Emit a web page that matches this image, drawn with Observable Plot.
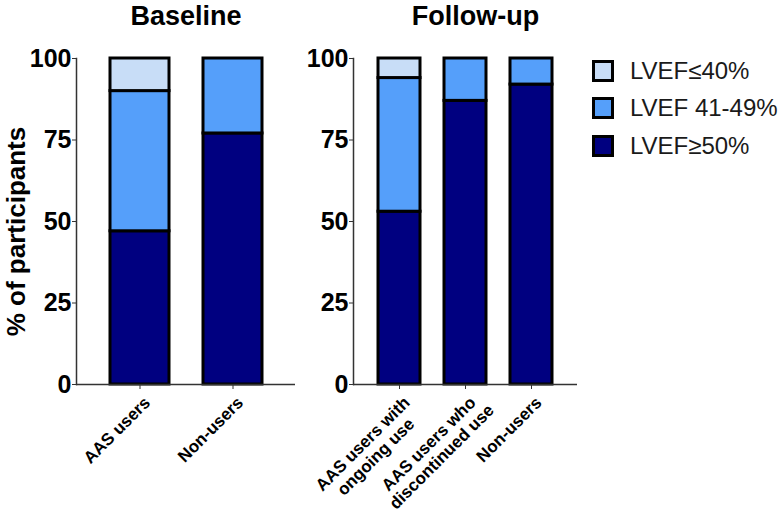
<!DOCTYPE html>
<html><head><meta charset="utf-8">
<script src="https://cdn.jsdelivr.net/npm/d3@7"></script>
<script src="https://cdn.jsdelivr.net/npm/@observablehq/plot@0.6"></script>
<style>
body{margin:0;background:#fff;font-family:"Liberation Sans",Arial,sans-serif;}
#wrap{position:relative;width:778px;height:515px;overflow:hidden;background:#fff}
#left{position:absolute;left:0;top:0}
#right{position:absolute;left:300px;top:0}
#legend{position:absolute;left:592px;top:52px}
.row{display:flex;align-items:center;height:37.5px}
.sw{width:16px;height:16px;border:3px solid #000;margin-right:16px;box-sizing:content-box}
.lab{font-size:24px;color:#1a1a1a;white-space:nowrap}
</style></head><body>
<div id="wrap"><div id="left"></div><div id="right"></div><div id="legend"></div></div>
<script>
// Categories (stack order bottom -> top) and colours
const categories = ["LVEF≥50%", "LVEF 41-49%", "LVEF≤40%"];
const categoryColors = ["#000080", "#559ffa", "#c8ddf7"];
const legendOrder = ["LVEF≤40%", "LVEF 41-49%", "LVEF≥50%"];
const yTicks = [0, 25, 50, 75, 100];

// Baseline panel
const baselineGroups = ["AAS users", "Non-users"];
const baselineGE50 = [47, 77];
const baselineMid = [43, 23];
const baselineLT40 = [10, 0];

// Follow-up panel
const followGroups = ["AAS users with\nongoing use", "AAS users who\ndiscontinued use", "Non-users"];
const followGE50 = [53, 87, 92];
const followMid = [41, 13, 8];
const followLT40 = [6, 0, 0];

const FONT = "Liberation Sans, Arial, sans-serif";
const LABEL_SIZE = 17;

const ctx = document.createElement("canvas").getContext("2d");
ctx.font = `bold ${LABEL_SIZE}px "Liberation Sans", Arial, sans-serif`;
function firstLineWidth(label) {
  return ctx.measureText(label.split("\n")[0]).width;
}

function rowsFor(groups, series) {
  const rows = [];
  groups.forEach((g, i) => series.forEach(([cat, vals]) => {
    if (vals[i] > 0) rows.push({group: g, category: cat, value: vals[i]});
  }));
  return rows;
}

function panel({groups, series, width, marginLeft, marginRight, title, titleDx, yLabel}) {
  const rows = rowsFor(groups, series);
  const s = Math.SQRT1_2;
  // rotated tick labels: first line ends at the tick, further lines centred on it
  const labelMarks = groups.map(g => {
    const half = firstLineWidth(g) / 2;
    return Plot.text([g], {x: d => d, frameAnchor: "bottom", dx: 2 - s * half, dy: 10 + s * half,
      rotate: -45, textAnchor: "middle", lineAnchor: "top", lineHeight: 1.08,
      fontSize: LABEL_SIZE, fontWeight: "bold", fill: "#000"});
  });
  const marks = [
    Plot.barY(rows, {x: "group", y: "value", fill: "category", stroke: "#000", strokeWidth: 3, order: categories}),
    Plot.ruleY([0], {stroke: "#333", strokeWidth: 1.5}),
    Plot.frame({anchor: "left", stroke: "#333", strokeWidth: 1.5}),
    Plot.axisY({ticks: yTicks, tickSize: 4, tickPadding: 1, fontSize: 25, fontWeight: "bold", label: null, stroke: "#333"}),
    Plot.axisX({tickSize: 5, tickFormat: () => "", label: null, stroke: "#333"}),
    ...labelMarks,
    Plot.text([title], {frameAnchor: "top", dy: -34, dx: titleDx, lineAnchor: "bottom", fontSize: 27, fontWeight: "bold", fill: "#000"})
  ];
  if (yLabel) marks.push(Plot.text([yLabel], {frameAnchor: "left", rotate: -90, dx: -60, dy: 10, fontSize: 26, fontWeight: "bold", textAnchor: "middle", fill: "#000"}));
  return Plot.plot({
    width, height: 515, marginTop: 58, marginBottom: 131, marginLeft, marginRight,
    style: {fontFamily: FONT, color: "#000", background: "transparent", overflow: "visible"},
    x: {domain: groups, paddingInner: 0.37, paddingOuter: 0.36, label: null},
    y: {domain: [0, 100], label: null},
    color: {domain: categories, range: categoryColors},
    marks
  });
}

document.getElementById("left").append(panel({
  groups: baselineGroups,
  series: [[categories[0], baselineGE50], [categories[1], baselineMid], [categories[2], baselineLT40]],
  width: 300, marginLeft: 76, marginRight: 5, title: "Baseline", titleDx: 0, yLabel: "% of participants"
}));

document.getElementById("right").append(panel({
  groups: followGroups,
  series: [[categories[0], followGE50], [categories[1], followMid], [categories[2], followLT40]],
  width: 280, marginLeft: 53, marginRight: 3, title: "Follow-up", titleDx: 10
}));

const legend = document.getElementById("legend");
legendOrder.forEach(c => {
  const row = document.createElement("div"); row.className = "row";
  const sw = document.createElement("div"); sw.className = "sw";
  sw.style.background = categoryColors[categories.indexOf(c)];
  const lab = document.createElement("div"); lab.className = "lab"; lab.textContent = c;
  row.append(sw, lab); legend.append(row);
});
</script>
</body></html>
